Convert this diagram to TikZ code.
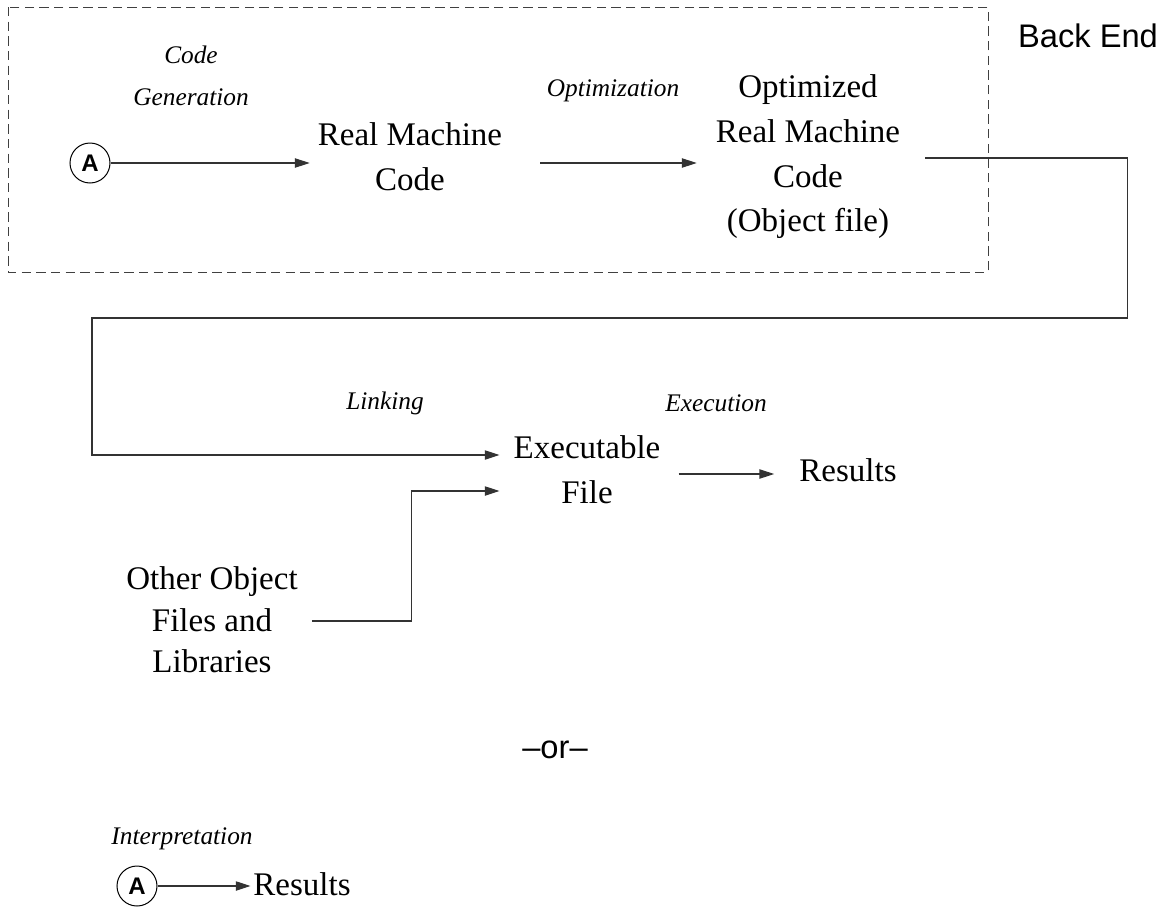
\documentclass[tikz,border=0pt]{standalone}
\usepackage{fontspec}
\setmainfont{Liberation Serif}
\setsansfont{Liberation Sans}
\usetikzlibrary{arrows.meta,calc}
\begin{document}
\begin{tikzpicture}[x=0.75pt,y=-0.75pt,
  txt/.style={align=center,inner sep=0pt,font=\fontsize{24.75}{33.5}\selectfont},
  txtb/.style={align=center,inner sep=0pt,font=\fontsize{24.75}{31}\selectfont},
  lbl/.style={align=center,inner sep=0pt,font=\fontsize{19}{31.5}\selectfont\itshape},
  sanslbl/.style={inner sep=0pt,font=\fontsize{24.5}{29}\selectfont\sffamily},
  circ/.style={draw,circle,line width=0.75pt,minimum size=30pt,inner sep=0pt,font=\fontsize{18}{18}\selectfont\sffamily\bfseries},
  conn/.style={line width=0.8pt,draw=black!80},
  arr/.style={conn,-{Triangle[length=11pt,width=7pt]}},
  grp/.style={draw=black!75,line width=0.75pt,dash pattern=on 7pt off 4pt}]
\useasboundingbox (0,0) rectangle (1171,907);
% back end group
\draw[grp] (8,7) rectangle (988,272);
\node[sanslbl] (be) at (1088,36) {Back End};
% top row
\node[circ] (A1) at (90,163) {A};
\node[lbl] (cg) at (191,76) {Code\\Generation};
\node[txt] (rmc) at (410,157) {Real Machine\\Code};
\node[lbl] (optl) at (613,91) {Optimization};
\node[txt] (ormc) at (808,157) {Optimized\\Real Machine\\Code\\(Object file)};
% middle
\node[lbl] (lnk) at (385,403) {Linking};
\node[lbl] (exl) at (716,403) {Execution};
\node[txt] (exe) at (587,470) {Executable\\File};
\node[txt] (res) at (848,470) {Results};
\node[txtb] (lib) at (212,620) {Other Object\\Files and\\Libraries};
\node[sanslbl] (or) at (555,750) {–or–};
% bottom
\node[lbl] (intl) at (182,839) {Interpretation};
\node[circ] (A2) at (137,886) {A};
\node[txt] (res2) at (302,884) {Results};
% connectors
\draw[arr,shorten >=6pt] (A1) -- (A1 -| rmc.west);
\draw[arr] ($(rmc.east)+(38,6)$) -- ($(ormc.west)+(-19,6)$);
\draw[arr] ($(ormc.east)+(25,1)$) -- ++(202,0) |- (92,318) |- ($(exe.west)+(-14,-15)$);
\draw[arr] ($(lib.east)+(14,1)$) -- ++(100,0) |- ($(exe.west)+(-14,21)$);
\draw[arr] ($(exe.east)+(18,4)$) -- ($(res.west)+(-25,4)$);
\draw[arr,shorten >=2pt] (A2) -- (A2 -| res2.west);
\end{tikzpicture}
\end{document}
